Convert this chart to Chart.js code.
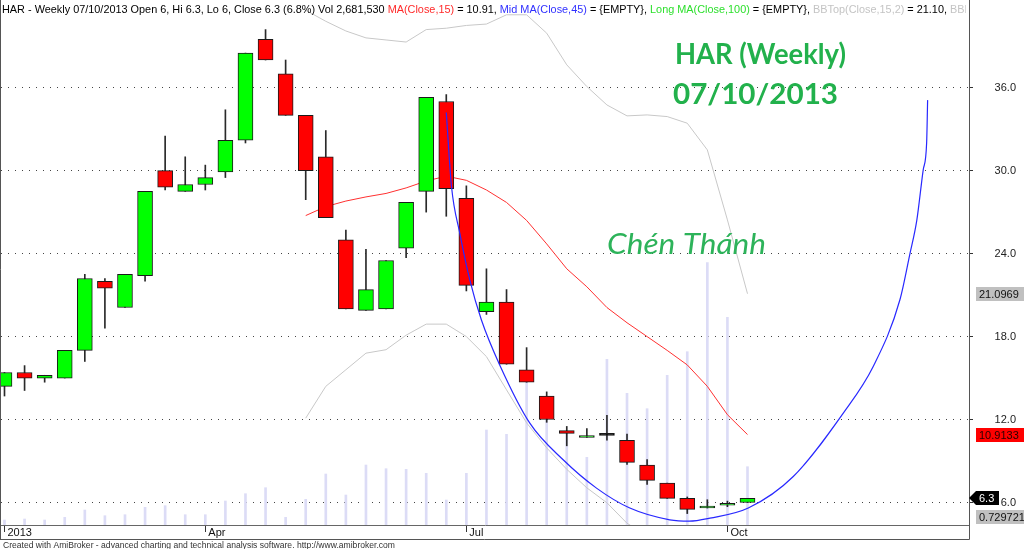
<!DOCTYPE html>
<html>
<head>
<meta charset="utf-8">
<title>HAR Weekly</title>
<script src="https://cdn.jsdelivr.net/npm/chart.js@4.4.0/dist/chart.umd.min.js"></script>
<style>
  html, body { margin: 0; padding: 0; background: #ffffff; overflow: hidden; }
  #wrap { width: 1024px; height: 549px; position: relative; }
</style>
</head>
<body>
<div id="wrap"><canvas id="c" width="1024" height="549"></canvas></div>
<script>
// Weekly bars (week start dates)
const weeks = ['14/01/2013','21/01/2013','28/01/2013','04/02/2013','18/02/2013','25/02/2013','04/03/2013','11/03/2013',
  '18/03/2013','25/03/2013','01/04/2013','08/04/2013','15/04/2013','22/04/2013','29/04/2013','06/05/2013','13/05/2013',
  '20/05/2013','27/05/2013','03/06/2013','10/06/2013','17/06/2013','24/06/2013','01/07/2013','08/07/2013','15/07/2013',
  '22/07/2013','29/07/2013','05/08/2013','12/08/2013','19/08/2013','26/08/2013','02/09/2013','09/09/2013','16/09/2013',
  '23/09/2013','30/09/2013','07/10/2013'];
const lastDate = '07/10/2013';

// OHLC
const open  = [14.4,15.4,15.0,15.0,17.0,22.0,20.1,22.4,30.0,28.5,29.0,29.9,32.2,39.5,37.0,34.0,31.0,25.0,19.9,20.0,
               24.4,28.5,35.0,28.0,19.8,20.5,15.6,13.7,11.2,10.7,10.85,10.5,8.7,7.4,6.3,5.6,5.8,6.0];
const high  = [15.4,15.9,15.2,17.0,22.5,22.2,22.5,28.5,32.5,31.0,30.4,34.4,38.5,40.2,38.0,34.0,32.9,25.7,24.3,23.5,
               27.7,35.3,35.5,28.9,22.9,21.4,17.2,14.0,11.5,11.35,12.3,10.95,9.1,7.4,6.4,6.2,6.1,6.3];
const low   = [13.7,14.1,14.7,15.0,16.2,18.6,20.1,22.0,28.6,28.5,28.6,29.5,32.0,38.0,34.0,27.9,26.6,20.0,19.9,20.0,
               23.7,27.0,26.7,21.3,19.6,16.0,14.7,11.8,10.1,10.7,10.5,8.75,7.3,6.3,5.2,5.6,5.7,6.0];
const close = [15.4,15.0,15.2,17.0,22.2,21.5,22.5,28.5,28.8,29.0,29.5,32.2,38.5,38.0,34.0,30.0,26.6,20.0,21.4,23.5,
               27.7,35.3,28.7,21.7,20.5,16.0,14.7,12.0,11.0,10.8,10.85,8.9,7.6,6.3,5.5,5.7,5.9,6.3];
const volume = [230000,276000,230000,354000,690000,428000,474000,814000,888000,474000,474000,1104000,1440000,1716000,
                354000,1182000,2346000,1380000,2760000,2590000,2562000,2378000,1150000,2378000,4370000,4172000,
                6900000,4830000,4218000,3114000,7622000,6058000,5350000,6886000,7972000,12066000,9554000,2681530];

// Indicators (first value sits on bar 15)
const indStart = 15;
const ma15  = [26.75,27.4,27.8,28.1,28.35,28.75,29.25,29.6,29.3,28.6,27.7,26.4,24.7,22.9,21.6,20.1,19.0,18.0,17.0,15.95,14.4,12.35,10.9133];
const bbTop = [41.6,40.8,40.1,39.6,39.45,39.3,40.2,40.3,40.5,40.6,41.27,41.27,39.94,37.65,36.08,34.75,33.96,34.03,33.91,33.43,31.5,26.44,21.0969];
const bbBot = [12.1,14.4,15.6,16.8,17.05,18.1,18.9,18.9,18.0,16.55,14.15,11.76,9.95,8.4,7.06,5.98,4.5,3.6,2.8,2.2,1.7,1.2,0.729721];

// Hand-drawn cup curve (bar position, price)
const cupX = [22.0,22.26,22.67,23.17,23.75,24.66,26.16,27.82,29.48,31.14,33.13,34.1,35.13,37.04,39.28,41.77,43.26,44.59,45.09,45.43,45.75,45.92,45.97];
const cupY = [34.2,28.85,25.5,22.1,19.2,15.95,11.74,9.09,7.04,5.6,4.75,4.65,4.87,5.6,7.88,12.47,15.84,20.66,24.0,26.4,30.06,32.0,35.1];

// Axis ticks
const priceTicks = [6, 12, 18, 24, 30, 36];
const dateTickIndex = [0, 10, 23, 36];
const dateTickText = ['2013', 'Apr', 'Jul', 'Oct'];

const GREEN = '#00ff00', RED = '#ff0000';
const bodyColors = close.map((c, i) => c > open[i] ? GREEN : (c < open[i] ? RED : '#000000'));
const idx = close.map((_, i) => i);

Chart.defaults.font.family = "'Liberation Sans', Arial, sans-serif";

function fitText(ctx, text, x, y, width, font, color) {
  ctx.save();
  ctx.font = font;
  ctx.fillStyle = color;
  ctx.textBaseline = 'alphabetic';
  ctx.textAlign = 'left';
  const w = ctx.measureText(text).width;
  ctx.translate(x, y);
  ctx.scale(width / w, 1);
  ctx.fillText(text, 0, 0);
  ctx.restore();
}

const fmtVol = v => v.toString().replace(/\B(?=(\d{3})+(?!\d))/g, ',');

const overlay = {
  id: 'overlay',
  afterDraw(chart) {
    const ctx = chart.ctx;
    const area = chart.chartArea;
    const ys = chart.scales.y;
    const n = close.length - 1;

    // frame lines
    ctx.save();
    ctx.strokeStyle = '#555';
    ctx.lineWidth = 1;
    ctx.beginPath();
    ctx.moveTo(0.5, 0); ctx.lineTo(0.5, 539.5);
    ctx.moveTo(area.right + 0.5, area.bottom); ctx.lineTo(area.right + 0.5, 539.5);
    ctx.moveTo(0, 539.5); ctx.lineTo(area.right + 0.5, 539.5);
    ctx.stroke();
    ctx.restore();

    // title line
    const pct = ((close[n] / close[n - 1] - 1) * 100).toFixed(1);
    const segs = [
      ['HAR - Weekly ' + lastDate + ' Open ' + open[n] + ', Hi ' + high[n] + ', Lo ' + low[n] + ', Close ' + close[n] +
        ' (' + pct + '%) Vol ' + fmtVol(volume[n]) + ' ', '#000000'],
      ['MA(Close,15)', '#ff2a2a'],
      [' = ' + ma15[ma15.length - 1].toFixed(2) + ', ', '#000000'],
      ['Mid MA(Close,45)', '#3030ff'],
      [' = {EMPTY}, ', '#000000'],
      ['Long MA(Close,100)', '#2ee02e'],
      [' = {EMPTY}, ', '#000000'],
      ['BBTop(Close,15,2)', '#c4c4c4'],
      [' = ' + bbTop[bbTop.length - 1].toFixed(2) + ', ', '#000000'],
      ['BBBot(Close,15,2)', '#c4c4c4'],
      [' = ' + bbBot[bbBot.length - 1].toFixed(2), '#000000']
    ];
    ctx.save();
    ctx.font = "11.5px 'Liberation Sans', Arial, sans-serif";
    let wFirst = 0;
    for (let k = 0; k < 9; k++) wFirst += ctx.measureText(segs[k][0]).width;
    const sx = 948 / wFirst;
    ctx.beginPath(); ctx.rect(0, 0, 966, 18); ctx.clip();
    ctx.translate(2, 12.5);
    ctx.scale(sx, 1);
    let tx = 0;
    ctx.textBaseline = 'alphabetic';
    for (const [t, c] of segs) {
      ctx.fillStyle = c;
      ctx.fillText(t, tx, 0);
      tx += ctx.measureText(t).width;
    }
    ctx.restore();

    // annotations
    fitText(ctx, 'HAR (Weekly)', 675, 63.5, 171, "bold 28px Lato, 'Open Sans', sans-serif", '#22b14c');
    fitText(ctx, lastDate, 673, 103.5, 165, "bold 28px Lato, 'Open Sans', sans-serif", '#22b14c');
    fitText(ctx, 'Chén Thánh', 607, 254, 159, "italic 28px Lato, 'Open Sans', sans-serif", '#2db35a');

    // right-hand value tags
    const tag = (val, text, fill, txtColor, clampBottom) => {
      let y = ys.getPixelForValue(val);
      if (clampBottom) y = Math.min(y, area.bottom - 8);
      ctx.save();
      ctx.fillStyle = fill;
      ctx.fillRect(976, Math.round(y) - 7, 48, 14);
      ctx.fillStyle = txtColor;
      ctx.font = "11px 'Liberation Sans', Arial, sans-serif";
      ctx.textBaseline = 'middle';
      ctx.fillText(text, 979, Math.round(y) + 0.5);
      ctx.restore();
    };
    const lastTop = bbTop[bbTop.length - 1];
    const lastMa = ma15[ma15.length - 1];
    const lastBot = bbBot[bbBot.length - 1];
    tag(lastTop, lastTop.toPrecision(6), '#c0c0c0', '#111111', false);
    tag(lastMa, lastMa.toPrecision(6), '#ff0000', '#2a0000', false);
    tag(lastBot, lastBot.toPrecision(6), '#c0c0c0', '#111111', true);

    const yc = Math.round(ys.getPixelForValue(close[n]));
    ctx.save();
    ctx.fillStyle = '#000000';
    ctx.beginPath();
    ctx.moveTo(area.right, yc);
    ctx.lineTo(area.right + 7, yc - 7);
    ctx.lineTo(999, yc - 7);
    ctx.lineTo(999, yc + 7);
    ctx.lineTo(area.right + 7, yc + 7);
    ctx.closePath();
    ctx.fill();
    ctx.fillStyle = '#ffffff';
    ctx.font = "11px 'Liberation Sans', Arial, sans-serif";
    ctx.textBaseline = 'middle';
    ctx.fillText(String(close[n]), 979, yc + 0.5);
    ctx.restore();

    // footer credit
    fitText(ctx, 'Created with AmiBroker - advanced charting and technical analysis software. http://www.amibroker.com',
      3, 548, 392, "9px 'Liberation Sans', Arial, sans-serif", '#333333');
  }
};

const seriesPts = (arr) => arr.map((v, k) => ({ x: indStart + k, y: v }));

new Chart(document.getElementById('c'), {
  type: 'bar',
  data: {
    datasets: [
      {
        label: 'Volume', yAxisID: 'yv', order: 10, grouped: false,
        data: idx.map(i => ({ x: i, y: volume[i] })),
        backgroundColor: '#dcdcf6', barThickness: 2, maxBarThickness: 2, clip: 0
      },
      {
        type: 'line', label: 'BBTop', order: 9,
        data: seriesPts(bbTop), borderColor: '#c8c8c8', borderWidth: 1, pointRadius: 0, tension: 0, clip: 0
      },
      {
        type: 'line', label: 'BBBot', order: 9,
        data: seriesPts(bbBot), borderColor: '#c8c8c8', borderWidth: 1, pointRadius: 0, tension: 0, clip: 0
      },
      {
        type: 'line', label: 'MA15', order: 8,
        data: seriesPts(ma15), borderColor: '#ff3030', borderWidth: 1, pointRadius: 0, tension: 0, clip: 0
      },
      {
        label: 'Wick', order: 6, grouped: false,
        data: idx.map(i => ({ x: i, y: [low[i], high[i]] })),
        backgroundColor: '#2a2a2a', barThickness: 1, maxBarThickness: 1, clip: 0
      },
      {
        label: 'Body', order: 5, grouped: false,
        data: idx.map(i => ({ x: i, y: [open[i], close[i]] })),
        backgroundColor: bodyColors, borderColor: '#1a1a1a', borderWidth: 1, borderSkipped: false,
        minBarLength: 2, barThickness: 15, maxBarThickness: 15, clip: 0
      },
      {
        type: 'line', label: 'Cup', order: 3,
        data: cupX.map((x, k) => ({ x, y: cupY[k] })),
        borderColor: '#2828ff', borderWidth: 1.2, pointRadius: 0, cubicInterpolationMode: 'monotone', clip: 0
      }
    ]
  },
  options: {
    responsive: false,
    animation: false,
    devicePixelRatio: 1,
    events: [],
    layout: { padding: { left: 1, right: 8, top: 0, bottom: 10 } },
    plugins: { legend: { display: false }, tooltip: { enabled: false } },
    scales: {
      x: {
        type: 'linear', position: 'bottom', min: -0.174, max: 48.03, offset: false,
        afterBuildTicks: ax => { ax.ticks = dateTickIndex.map(v => ({ value: v })); },
        afterFit: ax => { ax.height = 14; ax.paddingLeft = 0; ax.paddingRight = 0; },
        grid: { drawOnChartArea: false, drawTicks: true, tickLength: 7, tickColor: '#333', offset: false },
        border: { display: true, color: '#666', width: 1 },
        ticks: {
          autoSkip: false, maxRotation: 0, minRotation: 0, align: 'start', padding: -6, labelOffset: 3,
          color: '#111', font: { size: 11 },
          callback: v => dateTickText[dateTickIndex.indexOf(v)]
        }
      },
      y: {
        type: 'linear', position: 'right', min: 4.373, max: 42.34,
        afterBuildTicks: ax => { ax.ticks = priceTicks.map(v => ({ value: v })); },
        afterFit: ax => { ax.width = 47; ax.paddingTop = 0; ax.paddingBottom = 0; },
        grid: { color: '#444', lineWidth: 1, drawTicks: true, tickLength: 4, tickColor: '#333' },
        border: { display: true, color: '#555', width: 1, dash: [1, 6] },
        ticks: { crossAlign: 'far', color: '#222', font: { size: 11 }, callback: v => Number(v).toFixed(1) }
      },
      yv: { type: 'linear', display: false, min: 0, max: 24150000 }
    }
  },
  plugins: [overlay]
});
</script>
</body>
</html>
